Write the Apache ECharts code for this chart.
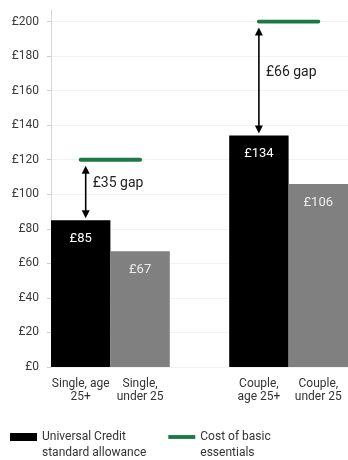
<!DOCTYPE html>
<html>
<head>
<meta charset="utf-8">
<script src="https://cdn.jsdelivr.net/npm/echarts@6/dist/echarts.min.js"></script>
<style>html,body{margin:0;padding:0;background:#fff;}#c{width:348px;height:460px;}</style>
</head>
<body>
<div id="c"></div>
<script>
// ---- data ----
const categories = ['Single, age\n25+', 'Single,\nunder 25', '', 'Couple,\nage 25+', 'Couple,\nunder 25'];
const allowance = [85, 67, null, 134, 106];
const essentials = [120, 120, null, 200, 200];
const gapCategories = [0, 3];
const yTicks = [0, 20, 40, 60, 80, 100, 120, 140, 160, 180, 200];
const seriesNames = ['Universal Credit standard allowance', 'Cost of basic essentials'];
const legendTexts = ['Universal Credit\nstandard allowance', 'Cost of basic\nessentials'];

// ---- styles ----
const barColors = ['#000000', '#808080', '#808080', '#000000', '#808080'];
const barLabelColors = ['#ffffff', '#ececec', '#ececec', '#ffffff', '#ececec'];
const arrowOffsets = [5, 0];
const FONT = 'Roboto';

const gapData = gapCategories.map(i => [i, allowance[i], essentials[i]]);

const chart = echarts.init(document.getElementById('c'), null, {renderer: 'canvas'});
chart.setOption({
  animation: false,
  textStyle: {fontFamily: FONT},
  grid: [
    {left: 51, right: -4, top: 21.5, bottom: 93},
    {left: 51, right: -4, top: 10, bottom: 93}
  ],
  xAxis: [
    {
      type: 'category', data: categories, gridIndex: 0,
      axisLine: {show: false}, axisTick: {show: false},
      axisLabel: {color: '#333', fontSize: 12, lineHeight: 13, margin: 10, interval: 0, fontFamily: FONT}
    },
    {type: 'category', data: categories, gridIndex: 1, show: false}
  ],
  yAxis: [
    {
      type: 'value', min: 0, max: 200, interval: 20, gridIndex: 0,
      axisLine: {show: false},
      axisTick: {show: true, length: 4, lineStyle: {color: '#d0d0d0'}},
      splitLine: {show: true, lineStyle: {color: '#f2f2f2', width: 1}},
      axisLabel: {color: '#3a3a3a', fontSize: 12, margin: 12, fontFamily: FONT,
        formatter: v => yTicks.includes(v) ? '£' + v : ''}
    },
    {
      type: 'value', min: 0, max: 1, gridIndex: 1,
      axisLine: {show: true, lineStyle: {color: '#d6d6d6', width: 1}},
      axisTick: {show: false}, axisLabel: {show: false}, splitLine: {show: false}
    }
  ],
  legend: {
    left: 10, top: 413, padding: 0, itemWidth: 27, itemHeight: 8, itemGap: 22,
    data: [
      {name: seriesNames[0], icon: 'rect'},
      {name: seriesNames[1], icon: 'path://M0,0M0,2H28V6H0ZM0,8'}
    ],
    formatter: name => '\n' + legendTexts[seriesNames.indexOf(name)],
    textStyle: {color: '#333', fontSize: 12, lineHeight: 16, fontFamily: FONT}
  },
  series: [
    {
      name: seriesNames[0], type: 'bar', xAxisIndex: 0, yAxisIndex: 0,
      barWidth: '100%', barCategoryGap: '0%',
      itemStyle: {color: '#000000'},
      data: allowance.map((v, i) => ({
        value: v,
        itemStyle: {color: barColors[i]},
        label: {
          show: v != null, position: 'insideTop', distance: 12,
          color: barLabelColors[i], fontSize: 13, fontFamily: FONT,
          formatter: p => '£' + p.value
        }
      }))
    },
    {
      name: seriesNames[1], type: 'line', xAxisIndex: 0, yAxisIndex: 0,
      data: essentials, symbol: 'none', connectNulls: false,
      itemStyle: {color: '#1b7a44'},
      lineStyle: {color: '#1b7a44', width: 4, cap: 'round'},
      z: 3
    },
    {
      type: 'custom', xAxisIndex: 0, yAxisIndex: 0, clip: false, z: 4,
      data: gapData,
      renderItem: function (params, api) {
        const x = api.value(0), lo = api.value(1), hi = api.value(2);
        const pLo = api.coord([x, lo]);
        const pHi = api.coord([x, hi]);
        const cx = pLo[0] + arrowOffsets[params.dataIndex];
        const yTop = pHi[1] + 6;
        const yBot = pLo[1] - 2;
        const ah = 8, aw = 4;
        return {
          type: 'group',
          children: [
            {type: 'line', shape: {x1: cx, y1: yTop + ah - 1, x2: cx, y2: yBot - ah + 1},
              style: {stroke: '#000', lineWidth: 1.6}},
            {type: 'polygon', shape: {points: [[cx, yTop], [cx - aw, yTop + ah], [cx + aw, yTop + ah]]},
              style: {fill: '#000'}},
            {type: 'polygon', shape: {points: [[cx, yBot], [cx - aw, yBot - ah], [cx + aw, yBot - ah]]},
              style: {fill: '#000'}},
            {type: 'text', style: {text: '£' + (hi - lo) + ' gap', x: cx + 7, y: (yTop + yBot) / 2 - 8,
              verticalAlign: 'middle', align: 'left', font: '14px ' + FONT, fill: '#222'}}
          ]
        };
      }
    }
  ]
});
</script>
</body>
</html>
